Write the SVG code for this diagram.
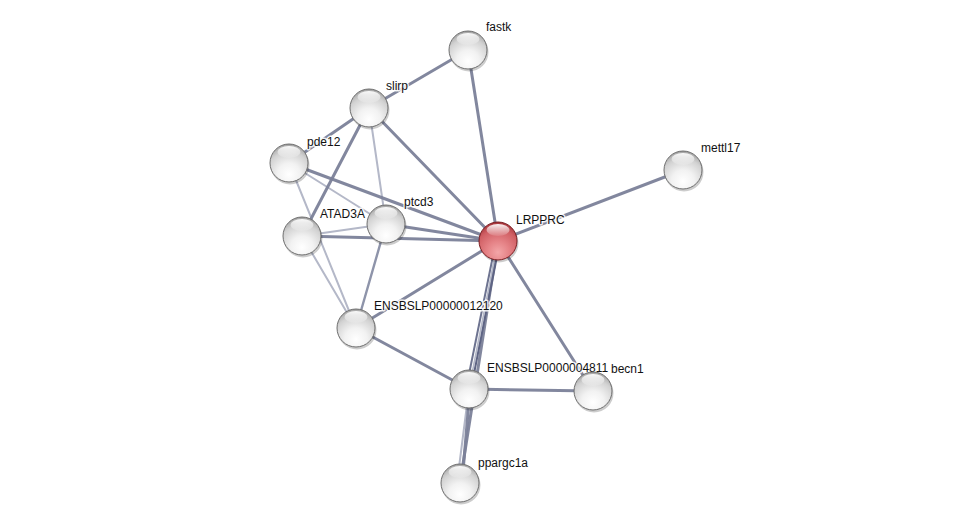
<svg xmlns="http://www.w3.org/2000/svg" width="976" height="529" viewBox="0 0 976 529">
<style>
.e{stroke:#7b8199;stroke-width:3;stroke-linecap:round;fill:none;opacity:0.95}
.l{stroke:#b4b8c8;stroke-width:2;stroke-linecap:round;fill:none}
.m{stroke:#8e94aa;stroke-width:2.4;stroke-linecap:round;fill:none}
.lab{font-family:"Liberation Sans",Arial,sans-serif;font-size:12px;fill:#111;stroke:#fff;stroke-width:3;stroke-opacity:0.85;paint-order:stroke;stroke-linejoin:round}
.ball{fill:url(#gw);stroke:#6f6f6f;stroke-width:1}
.red{fill:url(#gr);stroke:#7a1e22;stroke-width:1}
.hl{fill:url(#hl)}
.sh{fill:#000;opacity:0.2}
</style>
<defs>
<radialGradient id="gw" cx="0.5" cy="0.8" r="0.85">
<stop offset="0" stop-color="#ffffff"/>
<stop offset="0.35" stop-color="#f2f2f2"/>
<stop offset="0.7" stop-color="#d2d2d2"/>
<stop offset="0.9" stop-color="#a9a9a9"/>
<stop offset="1" stop-color="#8a8a8a"/>
</radialGradient>
<radialGradient id="gr" cx="0.5" cy="0.8" r="0.85">
<stop offset="0" stop-color="#f3a6a8"/>
<stop offset="0.35" stop-color="#e58286"/>
<stop offset="0.7" stop-color="#d05f64"/>
<stop offset="0.9" stop-color="#ac3a40"/>
<stop offset="1" stop-color="#8a2027"/>
</radialGradient>
<linearGradient id="hl" x1="0" y1="0" x2="0" y2="1">
<stop offset="0" stop-color="#fff" stop-opacity="0.95"/>
<stop offset="1" stop-color="#fff" stop-opacity="0.1"/>
</linearGradient>
<g id="node">
<circle class="sh" cx="1" cy="2" r="19.5"/>
<circle class="ball" r="19"/>
<ellipse class="hl" cx="0" cy="-11" rx="11.5" ry="6"/>
</g>
<g id="rnode">
<circle class="sh" cx="1" cy="2" r="19.5"/>
<circle class="red" r="19"/>
<ellipse class="hl" cx="0" cy="-11" rx="11.5" ry="6"/>
</g>
</defs>
<rect width="976" height="529" fill="#fff"/>
<g id="edges">
<line class="l" x1="369" y1="108" x2="386" y2="224"/>
<line class="l" x1="289" y1="163" x2="386" y2="224"/>
<line class="l" x1="289" y1="163" x2="356" y2="328"/>
<line class="l" x1="302" y1="236" x2="386" y2="224"/>
<line class="l" x1="302" y1="236" x2="356" y2="328"/>
<line class="e" x1="468" y1="50" x2="369" y2="108"/>
<line class="e" x1="468" y1="50" x2="498" y2="241"/>
<line class="e" x1="369" y1="108" x2="498" y2="241"/>
<line class="e" x1="369" y1="108" x2="289" y2="163"/>
<line class="e" x1="369" y1="108" x2="302" y2="236"/>
<line class="e" x1="289" y1="163" x2="498" y2="241"/>
<line class="e" x1="302" y1="236" x2="498" y2="241"/>
<line class="e" x1="386" y1="224" x2="498" y2="241"/>
<line class="m" x1="386" y1="224" x2="356" y2="328"/>
<line class="e" x1="356" y1="328" x2="498" y2="241"/>
<line class="e" x1="356" y1="328" x2="469" y2="389"/>
<line class="e" x1="498" y1="241" x2="683" y2="170"/>
<line class="e" x1="498" y1="241" x2="593" y2="391"/>
<line class="e" x1="469" y1="389" x2="593" y2="391"/>
<line class="e" x1="498" y1="241" x2="460" y2="483"/>
<line class="l" x1="469" y1="389" x2="457" y2="483"/>
<line class="e" x1="470" y1="389" x2="462" y2="483"/>
<line stroke="#6d7390" stroke-width="2" x1="496" y1="241" x2="466" y2="389"/>
<line stroke="#b4b8c8" stroke-width="1.6" x1="498" y1="241" x2="469" y2="389"/>
<line stroke="#5e6484" stroke-width="2" x1="500" y1="241" x2="471" y2="389"/>
</g>
<g id="n-fastk"><use href="#node" x="468" y="50"/><text class="lab" x="486" y="31">fastk</text></g>
<g id="n-slirp"><use href="#node" x="369" y="108"/><text class="lab" x="386" y="90">slirp</text></g>
<g id="n-pde12"><use href="#node" x="289" y="163"/><text class="lab" x="307" y="146">pde12</text></g>
<g id="n-mettl17"><use href="#node" x="683" y="170"/><text class="lab" x="701" y="152">mettl17</text></g>
<g id="n-ATAD3A"><use href="#node" x="302" y="236"/><text class="lab" x="320" y="218">ATAD3A</text></g>
<g id="n-ptcd3"><use href="#node" x="386" y="224"/><text class="lab" x="404" y="206">ptcd3</text></g>
<g id="n-LRPPRC"><use href="#rnode" x="498" y="241"/><text class="lab" x="516" y="224">LRPPRC</text></g>
<g id="n-12120"><use href="#node" x="356" y="328"/><text class="lab" x="374" y="310">ENSBSLP00000012120</text></g>
<g id="n-48116"><use href="#node" x="469" y="389"/><text class="lab" x="487" y="372">ENSBSLP0000004811</text></g>
<g id="n-becn1"><use href="#node" x="593" y="391"/><text class="lab" x="611" y="373">becn1</text></g>
<g id="n-ppargc1a"><use href="#node" x="460" y="483"/><text class="lab" x="478" y="467">ppargc1a</text></g>
</svg>
